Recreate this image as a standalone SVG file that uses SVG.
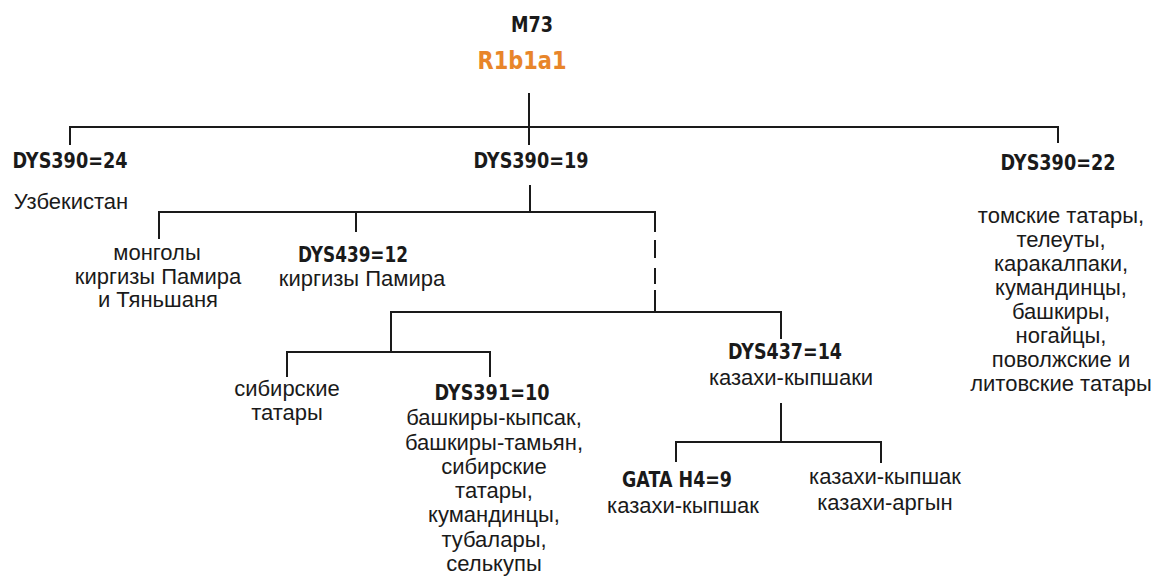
<svg xmlns="http://www.w3.org/2000/svg" width="1160" height="585" viewBox="0 0 1160 585">
<style>
.b{font-family:"DejaVu Sans","Liberation Sans",sans-serif;font-weight:bold;font-size:20.5px;fill:#1a1a1a;text-anchor:middle}
.t{font-family:"Liberation Sans",Arial,sans-serif;font-size:22px;fill:#1a1a1a;text-anchor:middle}
.l{stroke:#1a1a1a;stroke-width:2;fill:none}
</style>
<rect width="1160" height="585" fill="#ffffff"/>
<g id="connectors">
<path class="l" d="M529 93V145M70 145V127H1058V143"/>
<path class="l" d="M530 185V212M159 239V212H655V232M356 212V232"/>
<path class="l" d="M655 240V258M655 268V284M655 290V312M391 335V312H781V339"/>
<path class="l" d="M391 312V352M287 377V352H490V377"/>
<path class="l" d="M781 403V442M676 462V442H881V463"/>
</g>
<g id="root"><text class="b" x="532" y="32" textLength="42" lengthAdjust="spacingAndGlyphs">M73</text><text x="522" y="69" textLength="89" lengthAdjust="spacingAndGlyphs" style="font-family:'DejaVu Sans',sans-serif;font-weight:bold;font-size:24px;fill:#e8852a;text-anchor:middle">R1b1a1</text></g>
<g id="n24"><text class="b" x="70" y="168" textLength="115" lengthAdjust="spacingAndGlyphs">DYS390=24</text><text class="t" x="71" y="209">Узбекистан</text></g>
<g id="n19"><text class="b" x="531" y="168" textLength="115" lengthAdjust="spacingAndGlyphs">DYS390=19</text></g>
<g id="n22"><text class="b" x="1058" y="170" textLength="115" lengthAdjust="spacingAndGlyphs">DYS390=22</text>
<text class="t" x="1061" y="223">томские татары,</text>
<text class="t" x="1061" y="247">телеуты,</text>
<text class="t" x="1061" y="271">каракалпаки,</text>
<text class="t" x="1061" y="295">кумандинцы,</text>
<text class="t" x="1061" y="319">башкиры,</text>
<text class="t" x="1061" y="343">ногайцы,</text>
<text class="t" x="1061" y="367">поволжские и</text>
<text class="t" x="1061" y="391">литовские татары</text></g>
<g id="mong"><text class="t" x="157" y="260">монголы</text><text class="t" x="158" y="284">киргизы Памира</text><text class="t" x="158" y="307">и Тяньшаня</text></g>
<g id="n439"><text class="b" x="353" y="262" textLength="110" lengthAdjust="spacingAndGlyphs">DYS439=12</text><text class="t" x="362" y="286">киргизы Памира</text></g>
<g id="sib"><text class="t" x="287" y="396">сибирские</text><text class="t" x="287" y="420">татары</text></g>
<g id="n391"><text class="b" x="492" y="400" textLength="115" lengthAdjust="spacingAndGlyphs">DYS391=10</text>
<text class="t" x="494" y="425">башкиры-кыпсак,</text>
<text class="t" x="494" y="450">башкиры-тамьян,</text>
<text class="t" x="494" y="474">сибирские</text>
<text class="t" x="494" y="498">татары,</text>
<text class="t" x="494" y="522">кумандинцы,</text>
<text class="t" x="494" y="547">тубалары,</text>
<text class="t" x="494" y="571">селькупы</text></g>
<g id="n437"><text class="b" x="785" y="359" textLength="114" lengthAdjust="spacingAndGlyphs">DYS437=14</text><text class="t" x="791" y="385">казахи-кыпшаки</text></g>
<g id="gata"><text class="b" x="677" y="487" textLength="110" lengthAdjust="spacingAndGlyphs">GATA H4=9</text><text class="t" x="683" y="513">казахи-кыпшак</text></g>
<g id="kaz"><text class="t" x="885" y="484">казахи-кыпшак</text><text class="t" x="885" y="510">казахи-аргын</text></g>
</svg>
